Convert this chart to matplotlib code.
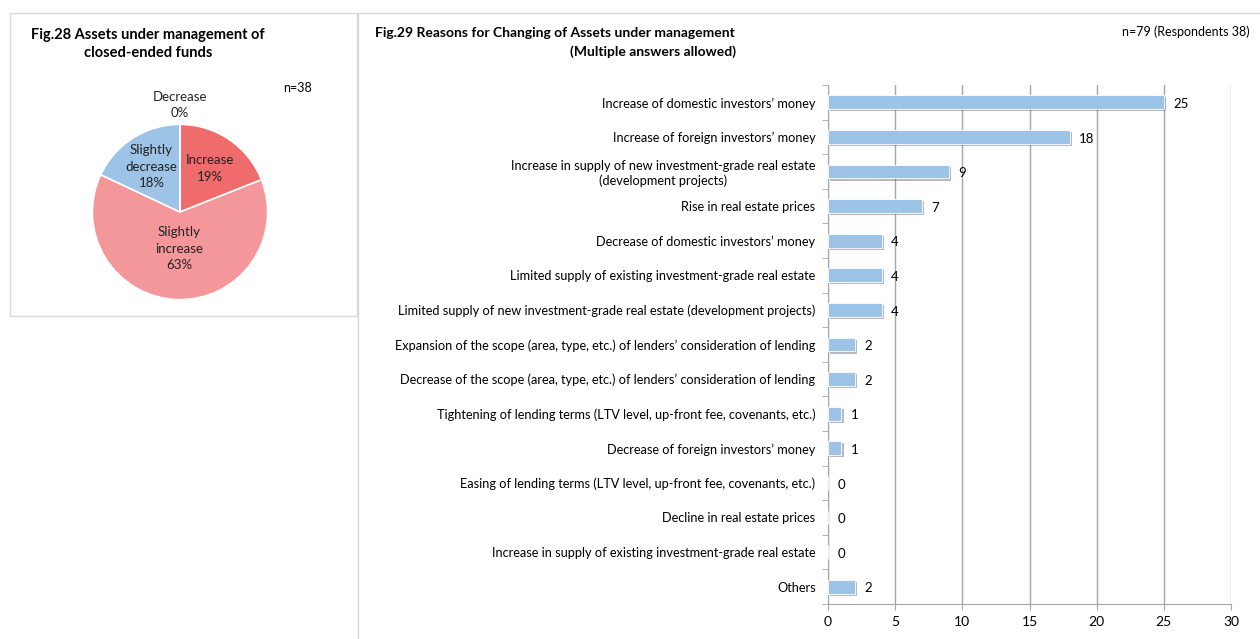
import matplotlib.pyplot as plt
import matplotlib.patheffects as pe
from matplotlib.lines import Line2D
from matplotlib.patches import Rectangle
import numpy as np

plt.rcParams['font.family'] = ['Lato', 'DejaVu Sans']

# Fig.28 pie data
pie_labels = ['Increase', 'Slightly\nincrease', 'Slightly\ndecrease', 'Decrease']
pie_values = [19, 63, 18, 0]
pie_colors = ['#F06B6B', '#F4979A', '#9DC3E6', '#4F81BD']

# Fig.29 bar data
reasons = [
    'Increase of domestic investors\u2019 money',
    'Increase of foreign investors\u2019 money',
    'Increase in supply of new investment-grade real estate\n(development projects)',
    'Rise in real estate prices',
    'Decrease of domestic investors\u2019 money',
    'Limited supply of existing investment-grade real estate',
    'Limited supply of new investment-grade real estate (development projects)',
    'Expansion of the scope (area, type, etc.) of lenders\u2019 consideration of lending',
    'Decrease of the scope (area, type, etc.) of lenders\u2019 consideration of lending',
    'Tightening of lending terms (LTV level, up-front fee, covenants, etc.)',
    'Decrease of foreign investors\u2019 money',
    'Easing of lending terms (LTV level, up-front fee, covenants, etc.)',
    'Decline in real estate prices',
    'Increase in supply of existing investment-grade real estate',
    'Others',
]
counts = [25, 18, 9, 7, 4, 4, 4, 2, 2, 1, 1, 0, 0, 0, 2]
x_ticks = [0, 5, 10, 15, 20, 25, 30]

W, H = 1260, 639
fig = plt.figure(figsize=(12.6, 6.39), dpi=100)
grey = '#D9D9D9'


def fx(px):
    return px / W


def fy(py):
    return 1 - py / H


# panel borders
fig.add_artist(Rectangle((fx(10), fy(316)), fx(347), 303 / H, transform=fig.transFigure,
                         fill=False, edgecolor=grey, lw=1))
fig.add_artist(Line2D([fx(358), fx(358)], [fy(13), 0], transform=fig.transFigure, color=grey, lw=1))
fig.add_artist(Line2D([fx(358), 1], [fy(13), fy(13)], transform=fig.transFigure, color=grey, lw=1))

# ---- pie ----
r = 92
axp = fig.add_axes([fx(180 - r), fy(212 + r), 2 * r / W, 2 * r / H])
wedges, _ = axp.pie(pie_values, colors=pie_colors, startangle=90, counterclock=False,
                    wedgeprops=dict(edgecolor='white', linewidth=1.2))
axp.set_aspect('equal')
dists = [0.6, 0.42, 0.61, 1.22]
for w, lab, v, d in zip(wedges, pie_labels, pie_values, dists):
    ang = np.deg2rad((w.theta1 + w.theta2) / 2)
    axp.text(d * np.cos(ang), d * np.sin(ang), f'{lab}\n{v}%', ha='center', va='center',
             fontsize=9.5, color='#222222', linespacing=1.45)
axp.set_xlim(-1.05, 1.05)
axp.set_ylim(-1.05, 1.05)

fig.text(fx(148), fy(44), 'Fig.28 Assets under management of\nclosed-ended funds', ha='center',
         va='center', fontsize=10.5, fontweight='bold', linespacing=1.3)
fig.text(fx(297), fy(88), 'n=38', ha='center', va='center', fontsize=9)

# ---- bars ----
ax = fig.add_axes([fx(828), fy(604), fx(1231 - 828), (604 - 85) / H])
y = np.arange(len(reasons))
bars = ax.barh(y, counts, height=0.4, color='#9DC3E6', edgecolor='white', linewidth=0.6, zorder=3)
for b in bars:
    b.set_path_effects([pe.SimplePatchShadow(offset=(1.5, -1.5), alpha=0.35), pe.Normal()])
for yi, c in zip(y, counts):
    ax.text(c + 0.7, yi + 0.05, str(c), va='center', ha='left', fontsize=9.5)

ax.set_xlim(0, 30)
ax.set_ylim(len(reasons) - 0.5, -0.5)
ax.set_xticks(x_ticks)
ax.set_yticks(y)
ax.set_yticklabels(reasons, fontsize=9.2)
for lab in ax.get_yticklabels():
    lab.set_multialignment('center')
ax.set_yticks(np.arange(-0.5, len(reasons)), minor=True)
ax.tick_params(axis='y', which='major', length=0, pad=9)
ax.tick_params(axis='y', which='minor', length=4, color='#A6A6A6')
ax.tick_params(axis='x', length=4, color='#A6A6A6', labelsize=10, pad=5)
ax.grid(axis='x', color='#A6A6A6', lw=1, zorder=0)
for s in ['top', 'right']:
    ax.spines[s].set_visible(False)
for s in ['left', 'bottom']:
    ax.spines[s].set_color('#A6A6A6')

fig.text(fx(375), fy(33), 'Fig.29 Reasons for Changing of Assets under management', ha='left',
         va='center', fontsize=10, fontweight='bold')
fig.text(fx(653), fy(52), '(Multiple answers allowed)', ha='center', va='center',
         fontsize=10, fontweight='bold')
fig.text(fx(1250), fy(32), 'n=79 (Respondents 38)', ha='right', va='center', fontsize=9)

fig.savefig('out.png', dpi=100)
